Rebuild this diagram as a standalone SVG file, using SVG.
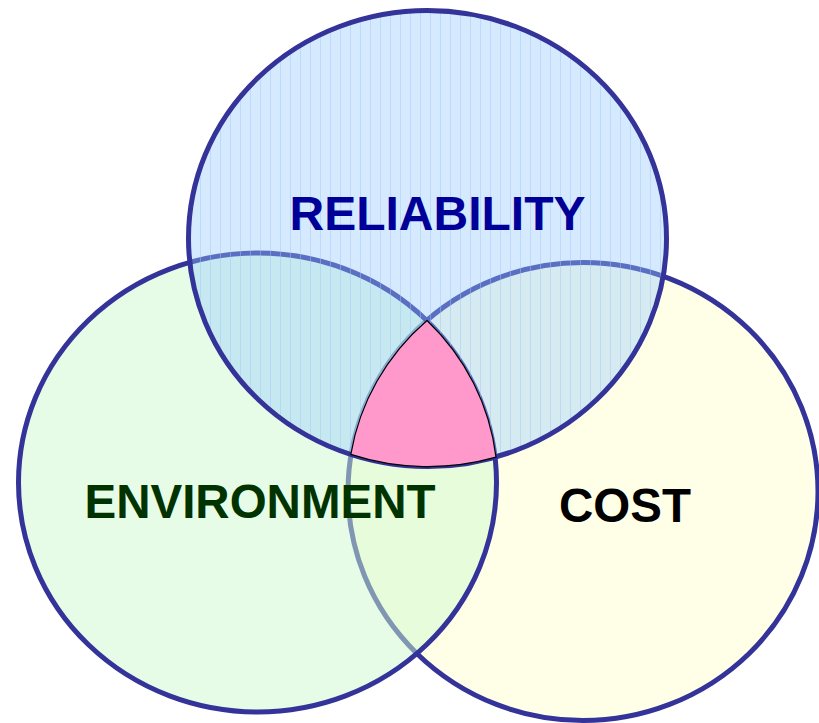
<svg xmlns="http://www.w3.org/2000/svg" width="819" height="723" viewBox="0 0 819 723">
  <defs>
    <pattern id="vlines" width="10" height="10" patternUnits="userSpaceOnUse">
      <rect x="0" y="0" width="1" height="10" fill="#9fc8f5" opacity="0.45"/>
    </pattern>
  </defs>
  <style>
    .ring { stroke: #333399; stroke-width: 5; }
    .label { font-family: "Liberation Sans", Arial, sans-serif; font-weight: bold; text-anchor: middle; }
  </style>
  <rect width="819" height="723" fill="#ffffff"/>
  <g id="cost">
    <ellipse cx="583" cy="491.5" rx="235" ry="229" fill="#ffffe8" class="ring"/>
  </g>
  <g id="environment">
    <ellipse cx="257.5" cy="482.5" rx="239" ry="229.5" fill="rgb(205,249,205)" fill-opacity="0.5" class="ring"/>
  </g>
  <g id="reliability">
    <ellipse cx="427.5" cy="238.5" rx="239" ry="228" fill="rgb(151,202,255)" fill-opacity="0.4"/>
    <ellipse cx="427.5" cy="238.5" rx="239" ry="228" fill="url(#vlines)" class="ring"/>
  </g>
  <g id="intersection">
    <path d="M427,320.5 A235,229 0 0 0 350.8,454.4 A239,228 0 0 0 496,457.2 A239,229.5 0 0 0 427,320.5 Z" fill="#ff99cc" stroke="#000000" stroke-width="1.2" stroke-linejoin="round"/>
  </g>
  <g id="labels">
    <text class="label" x="437.5" y="230" font-size="48" fill="#000099">RELIABILITY</text>
    <text class="label" x="260" y="518" font-size="47.5" fill="#003300">ENVIRONMENT</text>
    <text class="label" x="625" y="522" font-size="47.5" fill="#000000">COST</text>
  </g>
</svg>
